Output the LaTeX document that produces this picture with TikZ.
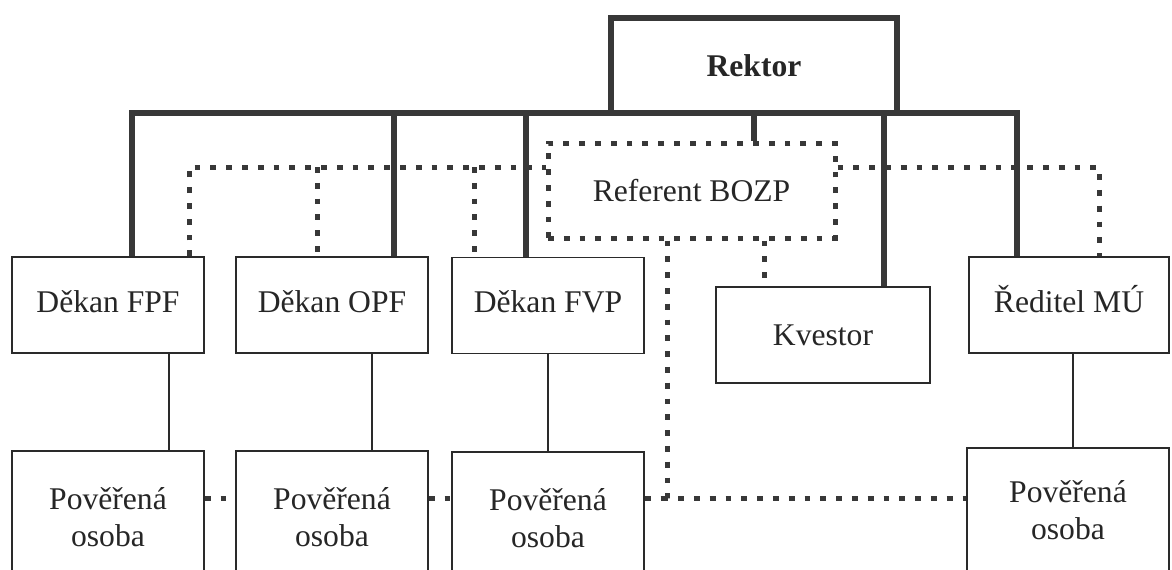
\documentclass[tikz,border=0pt]{standalone}
\usepackage{fontspec}
\setmainfont{Liberation Serif}
\definecolor{ink}{HTML}{383838}
\definecolor{edge}{HTML}{2A2A2A}
\tikzset{
  box/.style={draw=edge, line width=0.8pt, fill=white, align=center, inner sep=0pt,
    font=\fontsize{15.8}{18.5}\selectfont, text=black!85},
  upper/.style={text height=11.4pt, text depth=4pt},
  heavy/.style={draw=ink, line width=3pt},
  dots/.style={draw=ink, line width=2.5pt, dash pattern=on 2.9pt off 5pt},
  thin/.style={draw=edge, line width=0.8pt}
}
\begin{document}
\begin{tikzpicture}[x=0.5pt,y=-0.5pt]
\useasboundingbox (0,0) rectangle (1172,569);
\clip (0,0) rectangle (1172,569);
% nodes
\node[box, draw=ink, line width=3pt, minimum width=143pt, minimum height=47.5pt,
  font=\fontsize{15.8}{18.5}\selectfont\bfseries] (rektor) at (754,65.5) {Rektor};
\node[box, dots, minimum width=143.5pt, minimum height=47.5pt] (ref) at (691.5,190.5) {Referent BOZP};
\node[box, upper, minimum width=96pt, minimum height=48pt] (fpf) at (108,305) {Děkan FPF};
\node[box, upper, minimum width=96pt, minimum height=48pt] (opf) at (332,305) {Děkan OPF};
\node[box, upper, minimum width=96pt, minimum height=48pt] (fvp) at (548,305.5) {Děkan FVP};
\node[box, minimum width=107pt, minimum height=48pt] (kvestor) at (823,335) {Kvestor};
\node[box, upper, minimum width=100pt, minimum height=48pt] (reditel) at (1069,305) {Ředitel MÚ};
\node[box, minimum width=96pt, minimum height=66pt] (pfpf) at (108,517) {Pověřená\\osoba};
\node[box, minimum width=96pt, minimum height=66pt] (popf) at (332,517) {Pověřená\\osoba};
\node[box, minimum width=96pt, minimum height=66pt] (pfvp) at (548,518) {Pověřená\\osoba};
\node[box, minimum width=101pt, minimum height=62pt] (pmu) at (1068,510) {Pověřená\\osoba};
% thick bus
\coordinate (busL) at (132,113);
\coordinate (busR) at (1017,113);
\coordinate (bO) at (394,113);
\coordinate (bF) at (526,113);
\coordinate (bK) at (884,113);
\draw[heavy] (busL |- fpf.north) -- (busL) -- (busR) -- (busR |- reditel.north);
\draw[heavy] (bO) -- (bO |- opf.north);
\draw[heavy] (bF) -- (bF |- fvp.north);
\draw[heavy] (bK) -- (bK |- kvestor.north);
\draw[heavy] (rektor.south) -- (rektor.south |- ref.north);
% dotted links
\coordinate (d1) at (189,167);
\coordinate (d2) at (317,167);
\coordinate (d3) at (474,167);
\coordinate (d4) at (1099,167);
\coordinate (d5) at (764,300);
\coordinate (d6) at (667,498);
\draw[dots] (d1 |- fpf.north) -- (d1) -- (d1 -| ref.west);
\draw[dots] (d2) -- (d2 |- opf.north);
\draw[dots] (d3) -- (d3 |- fvp.north);
\draw[dots] (d4 -| ref.east) -- (d4) -- (d4 |- reditel.north);
\draw[dots] (d5 |- ref.south) -- (d5 |- kvestor.north);
\draw[dots] (d6 |- ref.south) -- (d6) -- (d6 -| pmu.west);
\draw[dots] (pfvp.east |- d6) -- (d6);
\draw[dots] (pfpf.east |- d6) -- (popf.west |- d6);
\draw[dots] (popf.east |- d6) -- (pfvp.west |- d6);
% thin links
\coordinate (t1) at (169,400);
\coordinate (t2) at (372,400);
\coordinate (t3) at (548,400);
\coordinate (t4) at (1073,400);
\draw[thin] (t1 |- fpf.south) -- (t1 |- pfpf.north);
\draw[thin] (t2 |- opf.south) -- (t2 |- popf.north);
\draw[thin] (t3 |- fvp.south) -- (t3 |- pfvp.north);
\draw[thin] (t4 |- reditel.south) -- (t4 |- pmu.north);
\end{tikzpicture}
\end{document}
